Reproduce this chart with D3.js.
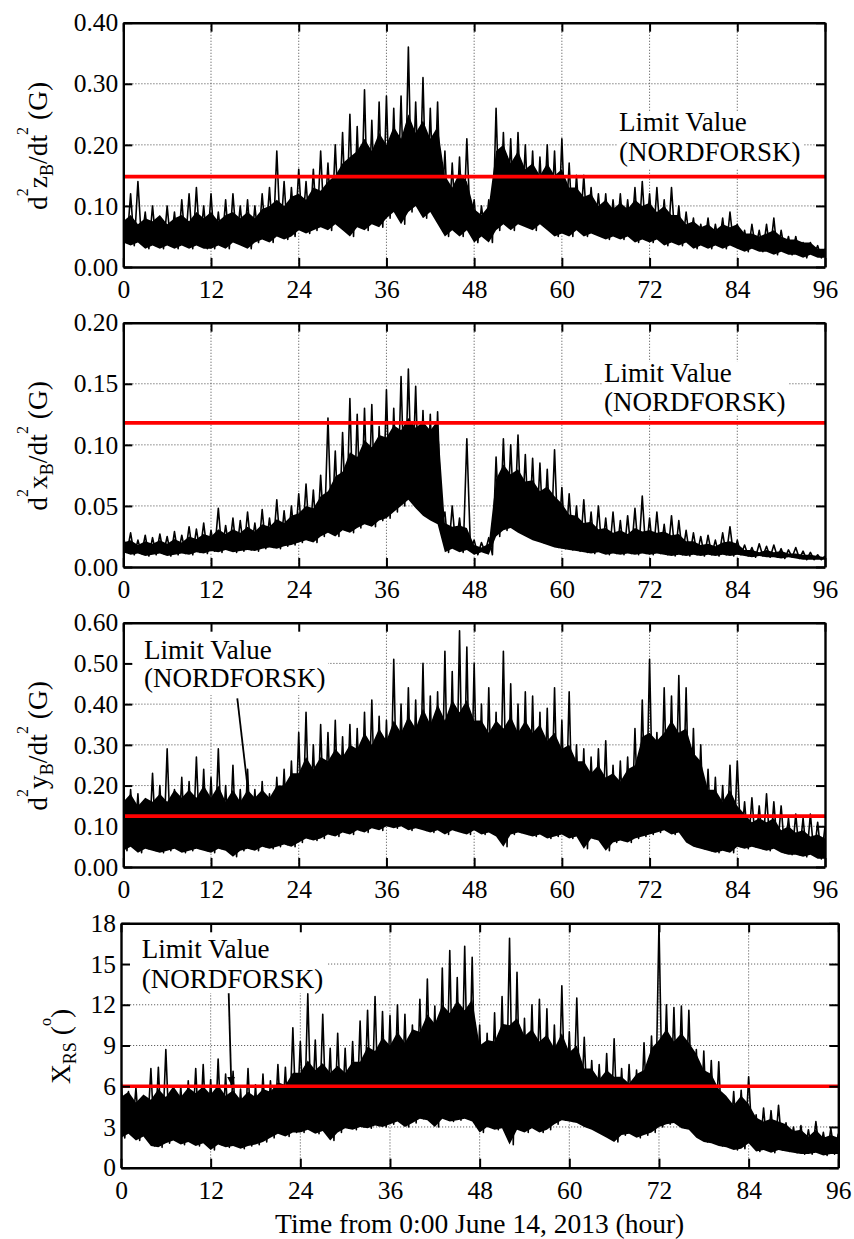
<!DOCTYPE html>
<html>
<head>
<style>
body { margin: 0; background: #fff; }
.grid { stroke: #555; stroke-width: 0.9; stroke-dasharray: 1.2,1.8; }
.axis .domain { stroke: #000; stroke-width: 2.4; }
.axis .tick line { stroke: #000; stroke-width: 2; }
</style>
</head>
<body>
<div id="chart"></div>
<script src="https://cdn.jsdelivr.net/npm/d3@7"></script>
<script>

// hourly readings of each signal, hour 0..96:
// hi = highest spike, core = top of the dense band, lo = bottom of the band
var zHi = [0.09,0.12,0.14,0.09,0.10,0.08,0.10,0.09,0.11,0.12,0.13,0.10,
  0.12,0.09,0.11,0.12,0.10,0.11,0.10,0.12,0.13,0.19,0.14,0.13,
  0.16,0.14,0.16,0.19,0.17,0.20,0.22,0.25,0.23,0.29,0.24,0.27,
  0.28,0.26,0.28,0.36,0.27,0.31,0.26,0.27,0.19,0.17,0.18,0.21,
  0.11,0.10,0.11,0.26,0.22,0.21,0.22,0.20,0.19,0.18,0.20,0.19,
  0.21,0.17,0.15,0.15,0.13,0.12,0.12,0.11,0.12,0.11,0.13,0.14,
  0.12,0.13,0.11,0.13,0.10,0.09,0.08,0.07,0.08,0.07,0.08,0.09,
  0.07,0.06,0.07,0.06,0.07,0.08,0.06,0.05,0.05,0.04,0.04,0.035,
  0.03];
var zCore = [0.075,0.085,0.07,0.08,0.075,0.085,0.07,0.08,0.085,0.075,0.09,0.08,
  0.09,0.075,0.085,0.09,0.08,0.09,0.08,0.095,0.10,0.11,0.10,0.115,
  0.12,0.11,0.13,0.125,0.14,0.15,0.17,0.18,0.19,0.21,0.19,0.22,
  0.20,0.23,0.21,0.25,0.22,0.24,0.21,0.23,0.15,0.13,0.155,0.14,
  0.095,0.085,0.10,0.19,0.20,0.17,0.19,0.16,0.17,0.15,0.17,0.15,
  0.16,0.13,0.13,0.115,0.12,0.10,0.11,0.095,0.105,0.095,0.11,0.10,
  0.105,0.09,0.10,0.085,0.085,0.07,0.075,0.065,0.07,0.06,0.07,0.065,
  0.07,0.055,0.055,0.05,0.055,0.06,0.05,0.045,0.045,0.04,0.04,0.03,
  0.03];
var zLo = [0.04,0.035,0.04,0.03,0.035,0.03,0.035,0.03,0.035,0.03,0.035,0.03,
  0.03,0.035,0.03,0.04,0.035,0.03,0.04,0.045,0.04,0.05,0.045,0.05,
  0.06,0.055,0.06,0.065,0.06,0.07,0.06,0.05,0.065,0.06,0.07,0.065,
  0.08,0.09,0.07,0.09,0.10,0.08,0.09,0.07,0.05,0.06,0.05,0.06,
  0.04,0.05,0.04,0.06,0.07,0.06,0.07,0.065,0.06,0.07,0.06,0.05,
  0.055,0.05,0.06,0.05,0.055,0.05,0.045,0.05,0.045,0.05,0.04,0.045,
  0.04,0.045,0.035,0.04,0.035,0.04,0.03,0.035,0.03,0.035,0.03,0.035,
  0.03,0.025,0.03,0.025,0.025,0.02,0.025,0.02,0.02,0.015,0.02,0.015,
  0.015];

var xHi = [0.025,0.028,0.022,0.026,0.024,0.027,0.025,0.029,0.026,0.033,0.031,0.036,
  0.030,0.048,0.034,0.040,0.038,0.045,0.036,0.047,0.040,0.055,0.046,0.050,
  0.060,0.068,0.063,0.075,0.122,0.095,0.110,0.138,0.125,0.130,0.133,0.115,
  0.145,0.130,0.156,0.162,0.148,0.128,0.125,0.127,0.045,0.050,0.040,0.105,
  0.022,0.020,0.024,0.090,0.105,0.100,0.108,0.092,0.089,0.085,0.080,0.096,
  0.065,0.060,0.050,0.055,0.045,0.050,0.040,0.045,0.038,0.042,0.048,0.058,
  0.040,0.045,0.035,0.042,0.038,0.030,0.028,0.025,0.026,0.022,0.028,0.033,
  0.022,0.018,0.016,0.019,0.017,0.018,0.015,0.014,0.016,0.013,0.012,0.010,
  0.009];
var xCore = [0.020,0.022,0.018,0.021,0.019,0.022,0.019,0.023,0.020,0.025,0.023,0.027,
  0.025,0.031,0.027,0.031,0.028,0.033,0.029,0.035,0.033,0.039,0.036,0.042,
  0.044,0.050,0.048,0.058,0.062,0.074,0.078,0.094,0.090,0.104,0.098,0.108,
  0.106,0.116,0.112,0.122,0.114,0.119,0.112,0.120,0.036,0.033,0.034,0.032,
  0.018,0.016,0.019,0.072,0.084,0.076,0.080,0.070,0.071,0.062,0.066,0.058,
  0.052,0.043,0.042,0.036,0.037,0.031,0.032,0.028,0.030,0.027,0.032,0.029,
  0.030,0.028,0.029,0.026,0.027,0.021,0.021,0.018,0.019,0.017,0.020,0.021,
  0.019,0.014,0.014,0.012,0.014,0.012,0.013,0.011,0.011,0.010,0.010,0.009,
  0.008];
var xLo = [0.012,0.010,0.011,0.009,0.010,0.011,0.009,0.010,0.011,0.010,0.012,0.011,
  0.013,0.012,0.014,0.012,0.013,0.014,0.013,0.015,0.016,0.015,0.017,0.018,
  0.020,0.022,0.020,0.025,0.028,0.025,0.030,0.028,0.032,0.035,0.033,0.038,
  0.040,0.045,0.050,0.055,0.048,0.042,0.038,0.035,0.012,0.015,0.012,0.014,
  0.010,0.012,0.010,0.025,0.030,0.032,0.028,0.025,0.022,0.020,0.018,0.016,
  0.015,0.014,0.013,0.012,0.011,0.012,0.010,0.011,0.010,0.011,0.010,0.011,
  0.010,0.011,0.010,0.009,0.010,0.009,0.010,0.009,0.010,0.009,0.010,0.009,
  0.010,0.009,0.008,0.009,0.008,0.008,0.007,0.008,0.007,0.006,0.006,0.006,
  0.006];

var yHi = [0.20,0.19,0.18,0.16,0.23,0.20,0.29,0.19,0.22,0.21,0.27,0.24,
  0.22,0.29,0.20,0.25,0.19,0.24,0.19,0.21,0.18,0.22,0.24,0.26,
  0.33,0.38,0.30,0.35,0.33,0.36,0.32,0.35,0.34,0.38,0.41,0.37,
  0.36,0.51,0.40,0.44,0.41,0.50,0.42,0.43,0.53,0.48,0.58,0.54,
  0.50,0.40,0.44,0.38,0.53,0.45,0.40,0.43,0.42,0.38,0.39,0.44,
  0.36,0.43,0.30,0.29,0.27,0.29,0.31,0.25,0.26,0.27,0.34,0.41,
  0.51,0.33,0.44,0.42,0.47,0.44,0.34,0.30,0.24,0.22,0.20,0.25,
  0.26,0.16,0.17,0.15,0.18,0.16,0.15,0.12,0.13,0.12,0.13,0.11,
  0.10];
var yCore = [0.16,0.18,0.15,0.17,0.16,0.18,0.16,0.19,0.17,0.19,0.17,0.20,
  0.17,0.20,0.16,0.19,0.16,0.19,0.17,0.19,0.17,0.20,0.20,0.23,
  0.23,0.27,0.24,0.27,0.26,0.29,0.27,0.30,0.29,0.33,0.30,0.34,
  0.31,0.36,0.33,0.37,0.34,0.39,0.35,0.40,0.36,0.41,0.38,0.41,
  0.36,0.36,0.33,0.36,0.34,0.37,0.33,0.36,0.33,0.35,0.31,0.33,
  0.29,0.30,0.26,0.26,0.23,0.25,0.22,0.23,0.21,0.24,0.25,0.32,
  0.33,0.31,0.33,0.36,0.33,0.34,0.28,0.26,0.19,0.19,0.16,0.19,
  0.15,0.13,0.11,0.12,0.11,0.12,0.09,0.10,0.085,0.09,0.075,0.08,
  0.07];
var yLo = [0.04,0.05,0.035,0.045,0.04,0.035,0.04,0.045,0.035,0.04,0.045,0.04,
  0.035,0.045,0.04,0.025,0.04,0.045,0.04,0.05,0.045,0.05,0.055,0.05,
  0.06,0.07,0.065,0.07,0.08,0.075,0.085,0.08,0.09,0.085,0.095,0.09,
  0.10,0.095,0.10,0.09,0.095,0.09,0.085,0.09,0.08,0.09,0.085,0.08,
  0.09,0.08,0.085,0.075,0.05,0.08,0.085,0.08,0.075,0.08,0.07,0.075,
  0.08,0.07,0.075,0.045,0.07,0.065,0.04,0.06,0.065,0.06,0.07,0.075,
  0.08,0.085,0.09,0.08,0.085,0.06,0.05,0.045,0.04,0.035,0.04,0.035,
  0.05,0.045,0.05,0.045,0.04,0.045,0.035,0.03,0.03,0.025,0.03,0.02,
  0.02];

var rsHi = [6.7,5.6,5.9,4.8,7.3,7.4,8.7,5.8,6.0,6.4,7.3,7.6,
  6.5,8.0,6.9,7.1,5.8,7.3,6.1,6.9,6.4,7.6,7.4,10.3,
  9.3,12.8,9.4,11.3,8.8,9.9,8.8,9.3,10.8,11.6,12.6,11.5,
  11.2,12.0,11.3,10.5,12.4,13.9,11.9,14.7,16.0,14.0,16.3,15.5,
  10.5,9.9,11.4,12.6,16.9,14.4,11.0,12.0,12.4,11.7,10.5,13.4,
  10.0,12.5,9.6,7.9,7.6,8.4,9.5,7.3,7.6,7.2,9.2,9.7,
  18.0,12.0,11.8,11.9,11.6,8.7,8.6,7.9,7.8,5.1,5.6,5.7,
  6.7,3.9,4.4,4.2,4.6,3.3,3.0,3.1,2.8,3.4,2.6,2.9,
  2.5];
var rsCore = [5.2,5.6,4.8,5.4,5.0,5.8,5.2,6.0,5.2,5.9,5.5,6.0,
  5.4,6.1,5.3,5.7,5.0,5.6,5.2,5.8,5.6,6.3,6.1,7.0,
  7.0,7.9,7.2,7.7,7.0,7.5,7.0,7.8,7.8,8.9,8.6,9.6,
  9.0,10.0,9.2,10.2,10.0,11.3,10.6,12.0,11.4,12.3,11.6,12.4,
  9.0,9.4,9.3,10.6,10.5,11.0,9.7,10.2,9.3,9.8,8.8,9.9,
  8.5,9.0,7.3,7.3,6.5,7.2,6.7,6.7,6.2,6.9,7.2,8.8,
  9.4,10.2,9.3,9.9,9.2,8.4,7.2,6.9,5.8,5.3,4.6,5.3,
  4.7,3.7,3.4,3.6,3.4,3.2,2.7,2.8,2.3,2.8,2.2,2.4,
  2.2];
var rsLo = [2.2,2.5,2.0,2.3,1.6,1.5,1.8,2.0,1.7,1.9,1.6,1.8,
  1.3,1.7,1.5,1.6,1.4,1.6,1.7,1.9,2.2,2.5,2.3,2.6,
  2.6,2.8,2.5,2.7,2.0,2.6,2.9,2.8,3.0,2.9,3.1,3.0,
  3.2,3.4,3.0,3.3,3.6,3.5,3.0,3.6,3.4,3.5,3.6,3.4,
  2.6,3.0,2.8,2.9,1.7,2.8,2.6,2.9,2.6,2.8,3.2,3.5,
  3.4,3.3,3.0,2.8,2.5,2.2,1.9,2.4,2.5,2.2,2.4,2.6,
  3.0,3.2,3.3,2.9,2.8,2.2,1.9,1.8,1.6,1.5,1.3,1.4,
  1.8,1.2,1.3,1.1,1.3,1.2,1.1,1.0,1.0,1.1,0.9,1.0,
  1.0];

// limit values (NORDFORSK)
var limitValues = [0.148, 0.118, 0.125, 6];

// tick labels
var hourTicks = [0, 12, 24, 36, 48, 60, 72, 84, 96];
var zTicks = [0, 0.1, 0.2, 0.3, 0.4];
var xTicks = [0, 0.05, 0.1, 0.15, 0.2];
var yTicks = [0, 0.1, 0.2, 0.3, 0.4, 0.5, 0.6];
var rsTicks = [0, 3, 6, 9, 12, 15, 18];

var noteLines = ["Limit Value", "(NORDFORSK)"];
var xTitle = "Time from 0:00 June 14, 2013 (hour)";

var width = 854, height = 1239;
var serif = "Liberation Serif";

var panels = [
  {hi: zHi, core: zCore, lo: zLo, limit: limitValues[0], ticks: zTicks, fmt: ".2f",
   l: 123.3, r: 825, t: 22.7, b: 267,
   label: [["d",""],["2","sup"],["z",""],["B","sub"],["/dt",""],["2","sup"],[" (G)",""]], labelX: 46.5,
   note: {x: 619, y1: 131, y2: 160.5, box: [617, 111.5, 803, 168]}},
  {hi: xHi, core: xCore, lo: xLo, limit: limitValues[1], ticks: xTicks, fmt: ".2f",
   l: 123.3, r: 825, t: 322.7, b: 567,
   label: [["d",""],["2","sup"],["x",""],["B","sub"],["/dt",""],["2","sup"],[" (G)",""]], labelX: 46.5,
   note: {x: 604, y1: 382, y2: 410.5, box: [602.5, 361.5, 788, 415]}},
  {hi: yHi, core: yCore, lo: yLo, limit: limitValues[2], ticks: yTicks, fmt: ".2f",
   l: 123.3, r: 825, t: 622.7, b: 867,
   label: [["d",""],["2","sup"],["y",""],["B","sub"],["/dt",""],["2","sup"],[" (G)",""]], labelX: 46.5,
   note: {x: 144, y1: 659, y2: 686.5, box: [125, 625, 328, 695], arrow: [237.3, 698.3, 250.5, 812]}},
  {hi: rsHi, core: rsCore, lo: rsLo, limit: limitValues[3], ticks: rsTicks, fmt: "d",
   l: 121, r: 838.3, t: 923.3, b: 1167.7,
   label: [["X",""],["RS","sub"],[" (",""],["o","sup"],[")",""]], labelX: 70,
   note: {x: 141.7, y1: 957.5, y2: 988, box: [123, 925, 328, 993], arrow: [228.7, 993.3, 231.3, 1085]}}
];

var svg = d3.select("#chart").append("svg")
  .attr("width", width)
  .attr("height", height)
  .style("background", "#fff");

var defs = svg.append("defs");
defs.append("marker")
  .attr("id", "arrowhead")
  .attr("viewBox", "0 0 10 10")
  .attr("refX", 10).attr("refY", 5)
  .attr("markerWidth", 8).attr("markerHeight", 13)
  .attr("markerUnits", "userSpaceOnUse")
  .attr("orient", "auto")
  .attr("preserveAspectRatio", "none")
  .append("path").attr("d", "M0,2L10,5L0,8Z").attr("fill", "#000");

panels.forEach(function(p, k) {
  var xScale = d3.scaleLinear().domain([0, 96]).range([p.l, p.r]);
  var yScale = d3.scaleLinear().domain([0, p.ticks[p.ticks.length - 1]]).range([p.b, p.t]);
  var g = svg.append("g");

  defs.append("clipPath").attr("id", "clip" + k)
    .append("rect").attr("x", p.l).attr("y", p.t).attr("width", p.r - p.l).attr("height", p.b - p.t);

  /* grid */
  g.selectAll(".vgrid").data(hourTicks.slice(1, -1)).enter().append("line")
    .attr("class", "grid")
    .attr("x1", d => xScale(d)).attr("x2", d => xScale(d))
    .attr("y1", p.t).attr("y2", p.b);
  g.selectAll(".hgrid").data(p.ticks.slice(1, -1)).enter().append("line")
    .attr("class", "grid")
    .attr("x1", p.l).attr("x2", p.r)
    .attr("y1", d => yScale(d)).attr("y2", d => yScale(d));

  var plot = g.append("g").attr("clip-path", "url(#clip" + k + ")");

  /* dense band between lo and core */
  var band = d3.area()
    .x((d, i) => xScale(i))
    .y0((d, i) => yScale(p.lo[i]))
    .y1(d => yScale(d));
  plot.append("path")
    .attr("d", band(p.core))
    .attr("fill", "#000");

  /* spikes: peak at each hour, trough half an hour later */
  var pts = [];
  p.hi.forEach(function(v, i) {
    pts.push([i, v]);
    if (i < p.hi.length - 1) pts.push([i + 0.5, p.lo[i]]);
  });
  var line = d3.line().x(d => xScale(d[0])).y(d => yScale(d[1]));
  plot.append("path")
    .attr("d", line(pts))
    .attr("fill", "none")
    .attr("stroke", "#000")
    .attr("stroke-width", 1.6)
    .attr("stroke-linejoin", "round");

  /* limit line */
  g.append("line")
    .attr("x1", p.l).attr("x2", p.r)
    .attr("y1", yScale(p.limit)).attr("y2", yScale(p.limit))
    .attr("stroke", "#ff0000").attr("stroke-width", 3.6);

  /* annotation */
  var n = p.note;
  g.append("rect")
    .attr("x", n.box[0]).attr("y", n.box[1])
    .attr("width", n.box[2] - n.box[0]).attr("height", n.box[3] - n.box[1])
    .attr("fill", "#fff");
  g.append("text").attr("x", n.x).attr("y", n.y1).attr("font-size", 27)
    .attr("font-family", serif).text(noteLines[0]);
  g.append("text").attr("x", n.x).attr("y", n.y2).attr("font-size", 27)
    .attr("font-family", serif).text(noteLines[1]);
  if (n.arrow) {
    g.append("line")
      .attr("x1", n.arrow[0]).attr("y1", n.arrow[1])
      .attr("x2", n.arrow[2]).attr("y2", n.arrow[3])
      .attr("stroke", "#000").attr("stroke-width", 1.8)
      .attr("marker-end", "url(#arrowhead)");
  }

  /* axes: ticks inward on all sides */
  var fmt = d3.format(p.fmt);
  var bottom = g.append("g").attr("class", "axis")
    .attr("transform", "translate(0," + p.b + ")")
    .call(d3.axisBottom(xScale).tickValues(hourTicks).tickSize(-9).tickSizeOuter(0).tickPadding(13));
  var left = g.append("g").attr("class", "axis")
    .attr("transform", "translate(" + p.l + ",0)")
    .call(d3.axisLeft(yScale).tickValues(p.ticks).tickFormat(fmt).tickSize(-9).tickSizeOuter(0).tickPadding(5));
  g.append("g").attr("class", "axis")
    .attr("transform", "translate(0," + p.t + ")")
    .call(d3.axisTop(xScale).tickValues(hourTicks).tickFormat("").tickSize(-9).tickSizeOuter(0));
  g.append("g").attr("class", "axis")
    .attr("transform", "translate(" + p.r + ",0)")
    .call(d3.axisRight(yScale).tickValues(p.ticks).tickFormat("").tickSize(-9).tickSizeOuter(0));
  [bottom, left].forEach(function(a) {
    a.attr("font-family", serif).attr("font-size", 25.5);
    a.selectAll("text")
      .attr("fill", "#000")
      .attr("font-family", serif)
      .attr("font-size", 25.5);
  });

  /* y label */
  var lab = g.append("text")
    .attr("transform", "translate(" + p.labelX + "," + ((p.t + p.b) / 2 + 1) + ") rotate(-90)")
    .attr("text-anchor", "middle")
    .attr("font-family", serif)
    .attr("font-size", 27.5);
  var shift = 0;
  p.label.forEach(function(part) {
    var target = part[1] === "sup" ? -19 : part[1] === "sub" ? 6 : 0;
    lab.append("tspan")
      .attr("dy", target - shift)
      .attr("font-size", part[1] === "sup" ? 16 : part[1] === "sub" ? 18 : 27.5)
      .text(part[0]);
    shift = target;
  });
});

svg.append("text")
  .attr("x", (panels[3].l + panels[3].r) / 2)
  .attr("y", 1233)
  .attr("text-anchor", "middle")
  .attr("font-family", serif)
  .attr("font-size", 27.5)
  .text(xTitle);

</script>
</body>
</html>
